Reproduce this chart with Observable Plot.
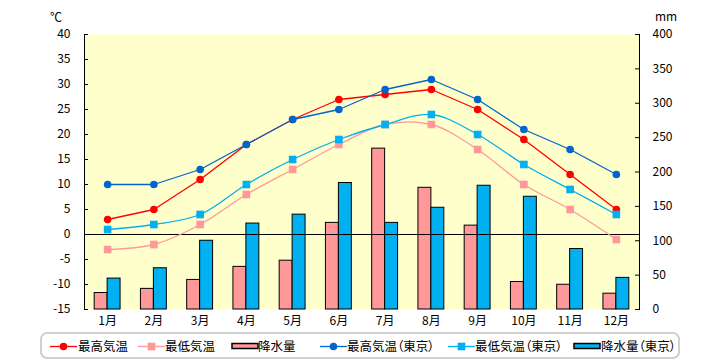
<!DOCTYPE html>
<html><head><meta charset="utf-8">
<script src="https://cdn.jsdelivr.net/npm/d3@7"></script>
<script src="https://cdn.jsdelivr.net/npm/@observablehq/plot@0.6"></script>
<style>
body{margin:0;background:#fff;font-family:"Noto Sans CJK JP",sans-serif;}
#wrap{position:relative;width:720px;height:360px;overflow:hidden;}
.unit{position:absolute;font-size:12px;line-height:12px;color:#000;}
#legend{position:absolute;left:40px;top:332px;width:640px;height:27px;box-sizing:border-box;border:2px solid #cfcfcf;border-radius:7px;}
.lt{position:absolute;top:338px;font-size:12.5px;line-height:16px;color:#000;white-space:nowrap;font-feature-settings:"palt";}
#legsvg{position:absolute;left:0;top:0;}
</style></head><body>
<div id="wrap"></div>
<script>
const months = ["1月","2月","3月","4月","5月","6月","7月","8月","9月","10月","11月","12月"];
const maxTemp = [3,5,11,18,23,27,28,29,25,19,12,5];
const minTemp = [-3,-2,2,8,13,18,22,22,17,10,5,-1];
const precip = [24,30,43,62,71,126,234,177,122,40,36,23];
const maxTempTokyo = [10,10,13,18,23,25,29,31,27,21,17,12];
const minTempTokyo = [1,2,4,10,15,19,22,24,20,14,9,4];
const precipTokyo = [45,60,100,125,138,184,126,148,180,164,88,46];
const tempTicks = [-15,-10,-5,0,5,10,15,20,25,30,35,40];
const precipTicks = [0,50,100,150,200,250,300,350,400];
const legendLabels = ["最高気温","最低気温","降水量","最高気温（東京）","最低気温（東京）","降水量（東京）"];

const tMin = tempTicks[0], tMax = tempTicks[tempTicks.length-1];
const pMax = precipTicks[precipTicks.length-1];
const toT = mm => tMin + mm * (tMax - tMin) / pMax;
const toMM = t => Math.round((t - tMin) * pMax / (tMax - tMin));

const data = months.map((name, i) => ({
  m: i + 1, name,
  max: maxTemp[i], min: minTemp[i], p: precip[i],
  maxT: maxTempTokyo[i], minT: minTempTokyo[i], pT: precipTokyo[i]
}));
const barW = 0.28;

const RED = "#FF0000", PINK = "#FF9999", BLUE = "#0066CC", CYAN = "#00B0F0", BG = "#FFFFCC";
const xDomain = [0.5, 12.5];

const chart = Plot.plot({
  width: 720, height: 330,
  marginLeft: 84, marginRight: 81, marginTop: 34, marginBottom: 21,
  style: {fontFamily: '"Noto Sans CJK JP", sans-serif', fontSize: "12px", background: "transparent", color: "#000"},
  x: {type: "linear", domain: xDomain},
  y: {domain: [tMin, tMax]},
  marks: [
    Plot.frame({fill: BG, stroke: null}),
    Plot.rect(data, {x1: d => d.m - barW, x2: d => d.m, y1: tMin, y2: d => toT(d.p), fill: PINK, stroke: "#000", strokeWidth: 1}),
    Plot.rect(data, {x1: d => d.m, x2: d => d.m + barW, y1: tMin, y2: d => toT(d.pT), fill: CYAN, stroke: "#000", strokeWidth: 1}),
    Plot.ruleY([0], {stroke: "#000", strokeWidth: 1}),
    Plot.ruleX(xDomain, {stroke: "#000", strokeWidth: 1}),
    Plot.line(data, {x: "m", y: "max", stroke: RED, strokeWidth: 1.3}),
    Plot.dot(data, {x: "m", y: "max", r: 3.8, fill: RED, stroke: null}),
    Plot.line(data, {x: "m", y: "min", stroke: PINK, strokeWidth: 1.3, curve: "catmull-rom"}),
    Plot.dot(data, {x: "m", y: "min", r: 4.3, symbol: "square", fill: PINK, stroke: null}),
    Plot.line(data, {x: "m", y: "maxT", stroke: BLUE, strokeWidth: 1.3}),
    Plot.dot(data, {x: "m", y: "maxT", r: 3.8, fill: BLUE, stroke: null}),
    Plot.line(data, {x: "m", y: "minT", stroke: CYAN, strokeWidth: 1.3, curve: "catmull-rom"}),
    Plot.dot(data, {x: "m", y: "minT", r: 4.3, symbol: "square", fill: CYAN, stroke: null}),
    Plot.axisY({anchor: "left", ticks: tempTicks, tickSize: -4, tickPadding: 18, tickFormat: d => String(d), label: null, fontSize: 12}),
    Plot.axisY({anchor: "right", ticks: precipTicks.map(toT), tickSize: -5, tickPadding: 18, tickFormat: t => String(toMM(t)), label: null, fontSize: 12}),
    Plot.axisX({ticks: data.map(d => d.m), tickFormat: m => months[m - 1], tickSize: 0, tickPadding: 7, label: null, fontSize: 12})
  ]
});

const wrap = document.getElementById("wrap");
wrap.appendChild(chart);

// unit labels
const u1 = document.createElement("div"); u1.className = "unit"; u1.style.left = "50px"; u1.style.top = "11px"; u1.textContent = "℃"; wrap.appendChild(u1);
const u2 = document.createElement("div"); u2.className = "unit"; u2.style.left = "655px"; u2.style.top = "10px"; u2.textContent = "mm"; wrap.appendChild(u2);

// legend
const lg = document.createElement("div"); lg.id = "legend"; wrap.appendChild(lg);
const svg = d3.select(wrap).append("svg").attr("id", "legsvg").attr("width", 720).attr("height", 360);
const items = [
  {type: "line", color: RED, sym: "circle", x: 50, tx: 78},
  {type: "line", color: PINK, sym: "square", x: 138, tx: 165},
  {type: "rect", color: PINK, x: 232, tx: 258},
  {type: "line", color: BLUE, sym: "circle", x: 320, tx: 347},
  {type: "line", color: CYAN, sym: "square", x: 448, tx: 475},
  {type: "rect", color: CYAN, x: 574, tx: 601}
];
const ly = 346.5;
items.forEach((it, i) => {
  if (it.type === "line") {
    svg.append("line").attr("x1", it.x).attr("x2", it.x + 27).attr("y1", ly).attr("y2", ly).attr("stroke", it.color).attr("stroke-width", 1.3);
    if (it.sym === "circle") svg.append("circle").attr("cx", it.x + 13.5).attr("cy", ly).attr("r", 3.8).attr("fill", it.color);
    else svg.append("rect").attr("x", it.x + 13.5 - 3.8).attr("y", ly - 3.8).attr("width", 7.6).attr("height", 7.6).attr("fill", it.color);
  } else {
    svg.append("rect").attr("x", it.x).attr("y", ly - 3).attr("width", 26).attr("height", 5).attr("fill", it.color).attr("stroke", "#000").attr("stroke-width", 1.5);
  }
  const t = document.createElement("div"); t.className = "lt"; t.style.left = it.tx + "px"; t.textContent = legendLabels[i]; wrap.appendChild(t);
});
</script>
</body></html>
